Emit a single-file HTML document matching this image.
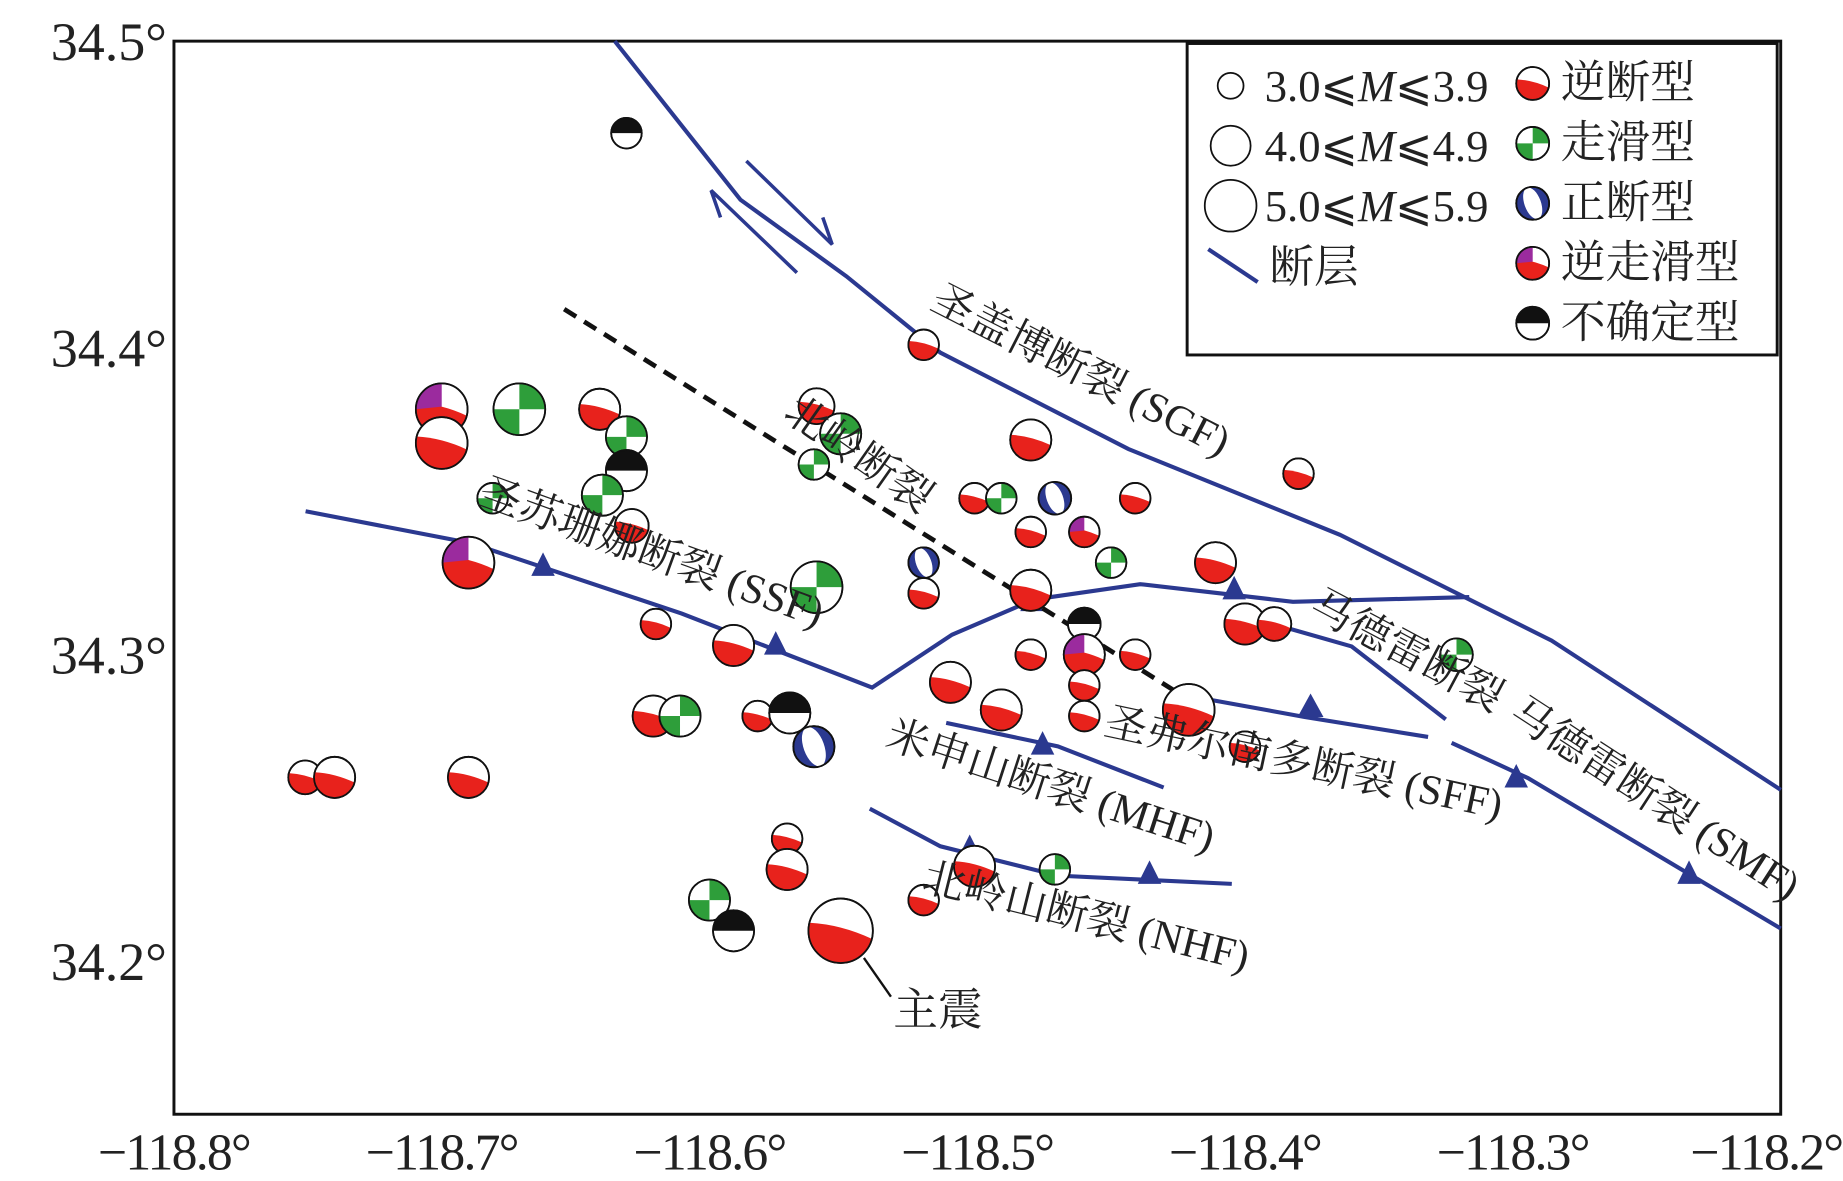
<!DOCTYPE html>
<html><head><meta charset="utf-8"><style>
html,body{margin:0;padding:0;background:#fff}
svg{display:block}
text{font-family:"Liberation Serif","Noto Serif CJK SC","Noto Sans CJK SC",serif;fill:#222}
</style></head><body>
<svg id="chart" width="1843" height="1181" viewBox="0 0 1568 1004.8" preserveAspectRatio="none" xmlns="http://www.w3.org/2000/svg">
<rect x="148" y="35" width="1367" height="913" fill="#fff" stroke="#111" stroke-width="2.5"/>
<g id="ticks"></g>
<g fill="none" stroke="#2b3990" stroke-width="3.5">
<polyline points="523,35 630,170 720,235 800,300 960,382 1140,455 1320,545 1515,672"/>
<polyline points="260,435 400,462 580,522 742,585 810,540 880,510 970,497 1100,512 1250,508"/>
<polyline points="1045,520 1150,550 1230,612"/>
<polyline points="1235,632 1300,662 1515,790"/>
<polyline points="1000,590 1110,610 1215,627"/>
<polyline points="805,615 900,635 990,670"/>
<polyline points="740,688 800,720 900,745 1048,752"/>
<polyline points="635,137 708,208 700,185" stroke-width="3"/>
<polyline points="678,232 605,162 613,185" stroke-width="3"/>
</g>
<g fill="#2b3990">
<polygon points="452,490 472,490 462,470"/><polygon points="650,557 670,557 660,537"/>
<polygon points="868,520 888,520 878,500"/><polygon points="1040,510 1060,510 1050,490"/>
<polygon points="1104,610 1126,610 1115,590"/><polygon points="877,642 897,642 887,622"/>
<polygon points="815,730 835,730 825,710"/><polygon points="968,752 988,752 978,732"/>
<polygon points="1280,670 1300,670 1290,650"/><polygon points="1427,752 1447,752 1437,732"/>
</g>
<line x1="480" y1="263" x2="1035" y2="610" stroke="#111" stroke-width="4" stroke-dasharray="12,8"/>
<g id="events"></g>
<g font-size="36">
<text transform="translate(790,262) rotate(27)">圣盖博断裂 (SGF)</text>
<text transform="translate(665,355) rotate(35)">北岭断裂</text>
<text transform="translate(405,428) rotate(20)">圣苏珊娜断裂 (SSF)</text>
<text transform="translate(1112,522) rotate(28)">马德雷断裂</text>
<text transform="translate(1282,612) rotate(33)">马德雷断裂 (SMF)</text>
<text transform="translate(938,625) rotate(12)">圣弗尔南多断裂 (SFF)</text>
<text transform="translate(752,635) rotate(18)">米申山断裂 (MHF)</text>
<text transform="translate(783,757) rotate(14)">北岭山断裂 (NHF)</text>
<line x1="735" y1="815" x2="758" y2="848" stroke="#111" stroke-width="2"/>
<text x="760" y="872" font-size="38">主震</text>
</g>
<g>
<rect x="1010" y="37" width="502" height="265" fill="#fff" stroke="#111" stroke-width="2.5"/>
<circle cx="1047" cy="73" r="11" fill="#fff" stroke="#111" stroke-width="1.5"/>
<circle cx="1047" cy="124" r="17" fill="#fff" stroke="#111" stroke-width="1.5"/>
<circle cx="1047" cy="175" r="22" fill="#fff" stroke="#111" stroke-width="1.5"/>
<text x="1076" y="86" font-size="38">3.0⩽<tspan font-style="italic">M</tspan>⩽3.9</text>
<text x="1076" y="137" font-size="38">4.0⩽<tspan font-style="italic">M</tspan>⩽4.9</text>
<text x="1076" y="188" font-size="38">5.0⩽<tspan font-style="italic">M</tspan>⩽5.9</text>
<line x1="1028" y1="212" x2="1070" y2="240" stroke="#2b3990" stroke-width="3.5"/>
<text x="1080" y="240" font-size="38">断层</text>
<g id="legendballs"></g>
<text x="1328" y="83" font-size="38">逆断型</text>
<text x="1328" y="134" font-size="38">走滑型</text>
<text x="1328" y="185" font-size="38">正断型</text>
<text x="1328" y="236" font-size="38">逆走滑型</text>
<text x="1328" y="287" font-size="38">不确定型</text>
</g>
</svg>
<script>
const lons=[-118.631,-118.520,-118.380,-118.700,-118.700,-118.671,-118.641,-118.631,-118.631,-118.640,-118.629,-118.681,-118.690,-118.560,-118.551,-118.561,-118.480,-118.501,-118.491,-118.471,-118.441,-118.480,-118.460,-118.450,-118.411,-118.520,-118.520,-118.560,-118.480,-118.620,-118.591,-118.400,-118.389,-118.460,-118.460,-118.480,-118.441,-118.321,-118.510,-118.460,-118.421,-118.491,-118.460,-118.621,-118.611,-118.582,-118.570,-118.561,-118.400,-118.751,-118.740,-118.690,-118.571,-118.571,-118.501,-118.471,-118.520,-118.600,-118.591,-118.551];
const lats=[34.470,34.401,34.359,34.380,34.369,34.380,34.380,34.371,34.360,34.352,34.342,34.351,34.330,34.381,34.372,34.362,34.370,34.351,34.351,34.351,34.351,34.340,34.340,34.330,34.330,34.330,34.320,34.322,34.321,34.310,34.303,34.310,34.310,34.310,34.300,34.300,34.300,34.300,34.291,34.290,34.282,34.282,34.280,34.280,34.280,34.280,34.281,34.270,34.270,34.260,34.260,34.260,34.240,34.230,34.231,34.230,34.220,34.220,34.210,34.210];
const mags=[3.5,3.5,3.5,5.5,5.5,5.5,4.5,4.5,4.5,4.5,3.8,3.5,5.5,4.0,4.5,3.5,4.5,3.5,3.5,3.7,3.5,3.5,3.5,3.5,4.5,3.5,3.5,5.5,4.5,3.5,4.5,4.5,3.8,3.7,4.5,3.5,3.5,3.7,4.5,3.5,5.5,4.5,3.5,4.5,4.5,3.5,4.5,4.5,3.5,3.8,4.5,4.5,3.5,4.5,4.5,3.5,3.5,4.5,4.5,6.7];
const types=["U","R","R","P","R","S","R","S","U","S","R","S","P","R","S","S","R","R","S","N","R","R","P","S","R","N","R","S","R","R","R","R","R","U","P","R","R","S","R","R","R","R","R","R","S","R","U","N","R","R","R","R","R","R","R","S","R","S","U","R"];
const X=lon=>148+(lon+118.8)*2278, Y=lat=>35+(34.5-lat)*2610, Rr=m=>13+(m-3.5)*4.5;
const col={R:"#e8221c",S:"#2e9e3a",N:"#2b3990",P:"#9b2b9e",U:"#111"};
const NS="http://www.w3.org/2000/svg";
function addPath(g,d,fill){const p=document.createElementNS(NS,"path");p.setAttribute("d",d);p.setAttribute("fill",fill);g.appendChild(p);}
function ball(g,cx,cy,r,t){
  const c=document.createElementNS(NS,"circle");
  c.setAttribute("cx",cx);c.setAttribute("cy",cy);c.setAttribute("r",r);
  c.setAttribute("fill",t==="N"?col.N:"#fff");c.setAttribute("stroke","#111");c.setAttribute("stroke-width","1.5");
  g.appendChild(c);
  const red=`M${cx-r*0.97},${cy-r*0.25} A${r},${r} 0 0 0 ${cx+r*0.97},${cy+r*0.25} Q${cx},${cy-r*0.2} ${cx-r*0.97},${cy-r*0.25} Z`;
  if(t==="S"){addPath(g,`M${cx},${cy} L${cx},${cy-r} A${r},${r} 0 0 1 ${cx+r},${cy} Z M${cx},${cy} L${cx},${cy+r} A${r},${r} 0 0 1 ${cx-r},${cy} Z`,col.S);}
  else if(t==="U"){addPath(g,`M${cx-r},${cy} A${r},${r} 0 0 1 ${cx+r},${cy} Z`,col.U);}
  else if(t==="N"){
    const e=document.createElementNS(NS,"ellipse");
    e.setAttribute("cx",cx);e.setAttribute("cy",cy);e.setAttribute("rx",r*0.5);e.setAttribute("ry",r);
    e.setAttribute("fill","#fff");e.setAttribute("transform",`rotate(-20 ${cx} ${cy})`);g.appendChild(e);
  }
  else if(t==="P"){addPath(g,red,col.R);addPath(g,`M${cx-r},${cy} A${r},${r} 0 0 1 ${cx},${cy-r} L${cx},${cy-r*0.1} Z`,col.P);}
  else {addPath(g,red,col.R);}
  const o=c.cloneNode();o.setAttribute("fill","none");g.appendChild(o);
}
const eg=document.getElementById("events");
lons.forEach((lon,i)=>{
  const g=document.createElementNS(NS,"g");
  
  
  ball(g,X(lon),Y(lats[i]),Rr(mags[i]),types[i]);eg.appendChild(g);
});
const lg=document.getElementById("legendballs");
["R","S","N","P","U"].forEach((t,i)=>ball(lg,1304,71+i*51,14,t));
const xTicks=["−118.8°","−118.7°","−118.6°","−118.5°","−118.4°","−118.3°","−118.2°"];
const xTickVals=[-118.8,-118.7,-118.6,-118.5,-118.4,-118.3,-118.2];
const yTicks=["34.5°","34.4°","34.3°","34.2°"];
const yTickVals=[34.5,34.4,34.3,34.2];
const tg=document.getElementById("ticks");
xTickVals.forEach((v,i)=>{
  const t=document.createElementNS(NS,"text");
  
  
  t.setAttribute("x",X(v)-(i===6?12:0));t.setAttribute("y",995);t.setAttribute("font-size","44");t.setAttribute("text-anchor","middle");t.setAttribute("letter-spacing","-1.5");
  t.textContent=xTicks[i];tg.appendChild(t);
});
yTickVals.forEach((v,i)=>{
  const t=document.createElementNS(NS,"text");
  
  
  t.setAttribute("x",142);t.setAttribute("y",Y(v)+16);t.setAttribute("font-size","46");t.setAttribute("text-anchor","end");
  t.textContent=yTicks[i];tg.appendChild(t);
});
</script>
</body></html>
